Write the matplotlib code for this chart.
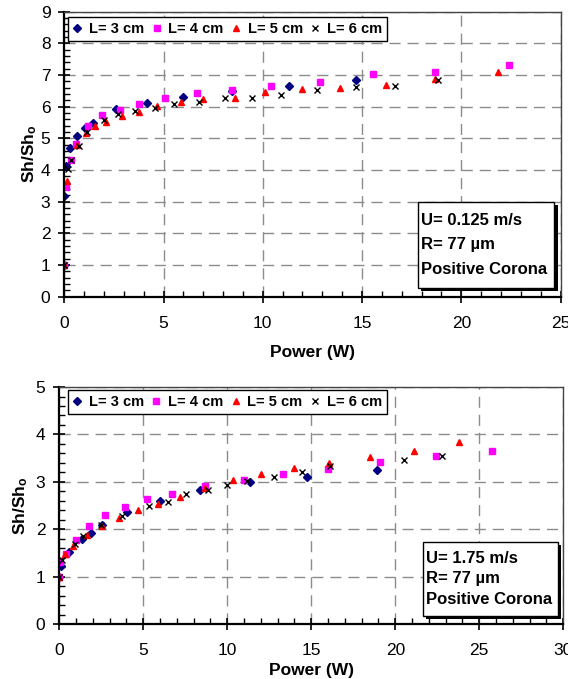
import matplotlib
matplotlib.use('Agg')
import matplotlib.pyplot as plt
import matplotlib.patheffects as pe
from matplotlib.patches import Rectangle
from matplotlib.ticker import MultipleLocator

plt.rcParams['font.family'] = ['Liberation Sans', 'DejaVu Sans']
plt.rcParams['mathtext.fontset'] = 'custom'
plt.rcParams['mathtext.bf'] = 'Liberation Sans:bold'
plt.rcParams['mathtext.rm'] = 'Liberation Sans'

labels = ['L= 3 cm', 'L= 4 cm', 'L= 5 cm', 'L= 6 cm']

# top chart: U = 0.125 m/s
p1_l3 = [0, 0, 0.1, 0.3, 0.65, 1.03, 1.45, 2.59, 4.17, 6.0, 8.46, 11.3, 14.7]
s1_l3 = [1, 3.18, 4.13, 4.71, 5.09, 5.33, 5.48, 5.94, 6.11, 6.32, 6.5, 6.65, 6.86]
p1_l4 = [0, 0.07, 0.34, 0.6, 1.21, 1.91, 2.82, 3.76, 5.07, 6.7, 8.46, 10.4,
         12.87, 15.55, 18.66, 22.39]
s1_l4 = [1, 3.47, 4.33, 4.82, 5.39, 5.73, 5.9, 6.1, 6.28, 6.43, 6.52, 6.66,
         6.78, 7.02, 7.11, 7.32]
p1_l5 = [0, 0.14, 0.65, 1.08, 1.55, 2.1, 2.89, 3.75, 4.65, 5.9, 6.97, 8.6,
         10.1, 11.97, 13.9, 16.2, 18.66, 21.85]
s1_l5 = [1, 3.65, 4.8, 5.17, 5.38, 5.51, 5.72, 5.84, 6.02, 6.15, 6.23, 6.29,
         6.46, 6.55, 6.6, 6.68, 6.88, 7.11]
p1_l6 = [0, 0.17, 0.34, 0.74, 1.14, 2.02, 2.72, 3.55, 4.59, 5.51, 6.77, 8.08,
         9.46, 10.92, 12.73, 14.7, 16.68, 18.84]
s1_l6 = [1, 4.02, 4.31, 4.76, 5.2, 5.58, 5.76, 5.85, 5.97, 6.08, 6.15, 6.27,
         6.29, 6.38, 6.53, 6.62, 6.67, 6.83]

# bottom chart: U = 1.75 m/s
p2_l3 = [0, 0.1, 0.56, 1.37, 1.89, 2.52, 4.05, 5.98, 8.36, 11.33, 14.73, 18.89]
s2_l3 = [1, 1.23, 1.52, 1.79, 1.92, 2.09, 2.37, 2.59, 2.83, 3.0, 3.1, 3.25]
p2_l4 = [0, 0.06, 0.38, 1.0, 1.77, 2.74, 3.89, 5.24, 6.69, 8.67, 10.97, 13.3,
         16.0, 19.09, 22.42, 25.76]
s2_l4 = [1, 1.3, 1.47, 1.78, 2.06, 2.29, 2.47, 2.63, 2.74, 2.92, 3.04, 3.16,
         3.28, 3.41, 3.54, 3.66]
p2_l5 = [0, 0.36, 0.83, 1.65, 2.56, 3.57, 4.67, 5.89, 7.18, 8.65, 10.34, 11.99,
         13.95, 16.05, 18.5, 21.1, 23.8]
s2_l5 = [1, 1.47, 1.65, 1.88, 2.06, 2.23, 2.41, 2.53, 2.69, 2.88, 3.04, 3.16,
         3.3, 3.4, 3.53, 3.64, 3.85]
p2_l6 = [0, 0.16, 0.93, 1.41, 2.5, 3.75, 5.32, 6.47, 7.52, 8.85, 10.0, 11.19,
         12.78, 14.45, 16.11, 20.5, 22.8]
s2_l6 = [1, 1.35, 1.69, 1.85, 2.09, 2.28, 2.48, 2.58, 2.74, 2.82, 2.94, 3.02,
         3.11, 3.21, 3.34, 3.45, 3.54]

info1 = 'U= 0.125 m/s\nR= 77 \u00b5m\nPositive Corona'
info2 = 'U= 1.75 m/s\nR= 77 \u00b5m\nPositive Corona'


def desenhar(ax, dados, xmax, ymax, info, leg_xy, caixa, espaco, xpad, ypad):
    estilos = [
        dict(marker='D', color='#000080', ms=3.6),
        dict(marker='s', color='#FF00FF', ms=4.2),
        dict(marker='^', color='#FF0000', ms=5),
        dict(marker='x', color='black', ms=4.5, mew=1),
    ]
    for (x, y), lab, st in zip(dados, labels, estilos):
        ax.plot(x, y, linestyle='none', label=lab, **st)

    ax.set_xlim(0, xmax)
    ax.set_ylim(0, ymax)
    ax.xaxis.set_major_locator(MultipleLocator(5))
    ax.xaxis.set_minor_locator(MultipleLocator(1))
    ax.yaxis.set_major_locator(MultipleLocator(1))
    ax.yaxis.set_minor_locator(MultipleLocator(0.2))
    ax.grid(True, which='major', color='#8c8c8c', linestyle=(0, (8, 5)), linewidth=1)

    ax.tick_params(which='major', direction='inout', length=8, width=1.2,
                   labelsize=12.5, pad=6)
    ax.tick_params(which='minor', direction='in', length=4, width=1)
    ax.tick_params(axis='x', which='major', pad=10)
    for s in ['left', 'bottom']:
        ax.spines[s].set_linewidth(1.6)
    for s in ['right', 'top']:
        ax.spines[s].set_linewidth(1)
        ax.spines[s].set_color('#444444')

    ax.set_xlabel('Power (W)', fontsize=12.5, fontweight='bold', labelpad=xpad)
    ax.set_ylabel(r'$\mathbf{Sh/Sh_o}$', fontsize=12.5, labelpad=ypad)

    leg = ax.legend(loc='upper left', bbox_to_anchor=leg_xy, borderaxespad=0,
                    ncol=4, prop={'weight': 'bold', 'size': 10.5},
                    frameon=True, fancybox=False, framealpha=1, edgecolor='black',
                    handlelength=0.6, handletextpad=0.5, columnspacing=0.55,
                    borderpad=0.35)
    leg.get_frame().set_linewidth(1)

    # caixa com sombra
    x0, y0, x1, y1 = caixa
    r = Rectangle((x0, y0), x1 - x0, y1 - y0, transform=ax.transAxes,
                  facecolor='white', edgecolor='black', linewidth=1, zorder=5)
    r.set_path_effects([
        pe.SimplePatchShadow(offset=(2.5, -2.5), shadow_rgbFace='black', alpha=1),
        pe.Normal()])
    ax.add_patch(r)
    ax.text(x0 + 0.007, (y0 + y1) / 2, info, transform=ax.transAxes,
            fontsize=12, fontweight='bold', ha='left', va='center',
            linespacing=espaco, zorder=6)


fig = plt.figure(figsize=(5.68, 6.79), dpi=100)
ax1 = fig.add_axes([0.1132, 0.563, 0.8736, 0.4197])
ax2 = fig.add_axes([0.1044, 0.081, 0.8873, 0.349])

desenhar(ax1, [(p1_l3, s1_l3), (p1_l4, s1_l4), (p1_l5, s1_l5), (p1_l6, s1_l6)],
         25, 9, info1, (0.0075, 0.981), (0.7128, 0.0316, 0.987, 0.3333),
         1.78, 10, 1)
desenhar(ax2, [(p2_l3, s2_l3), (p2_l4, s2_l4), (p2_l5, s2_l5), (p2_l6, s2_l6)],
         30, 5, info2, (0.0167, 0.987), (0.721, 0.035, 0.9895, 0.346),
         1.47, 3, 4)

fig.savefig('out.png', dpi=100)
